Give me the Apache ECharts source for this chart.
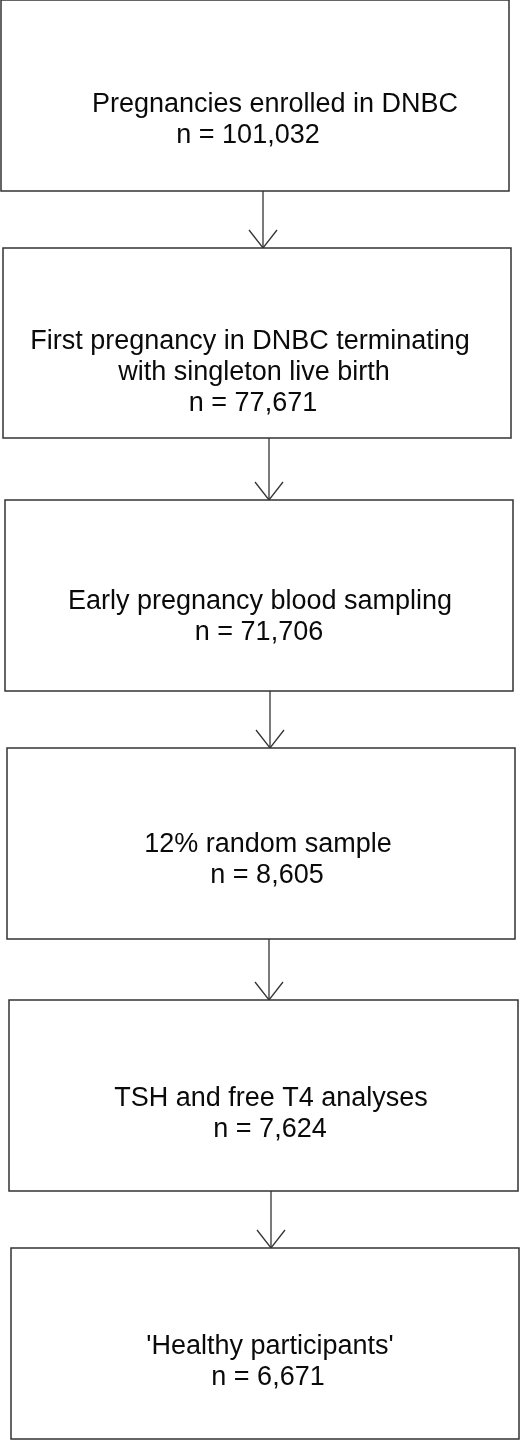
<!DOCTYPE html>
<html>
<head>
<meta charset="utf-8">
<script src="https://cdn.jsdelivr.net/npm/echarts@6/dist/echarts.min.js"></script>
<style>
html, body { margin: 0; padding: 0; background: #fff; }
#chart { width: 520px; height: 1440px; }
</style>
</head>
<body>
<div id="chart"></div>
<script>
// flow steps
var stepTitles = [
    ['Pregnancies enrolled in DNBC'],
    ['First pregnancy in DNBC terminating', 'with singleton live birth'],
    ['Early pregnancy blood sampling'],
    ['12% random sample'],
    ['TSH and free T4 analyses'],
    ["'Healthy participants'"]
];
var stepCounts = ['n = 101,032', 'n = 77,671', 'n = 71,706', 'n = 8,605', 'n = 7,624', 'n = 6,671'];

// box extents in chart units (x 0..520, y 0..1440 downwards)
var boxLeft = [1, 3, 5, 7, 9, 11];
var boxRight = [509, 511, 513, 515, 518, 519];
var boxTop = [0, 248, 500, 748, 1000, 1248];
var boxBottom = [191, 438, 691, 939, 1191, 1439];
// arrow positions between boxes
var arrowX = [263, 269, 270, 269, 271];
// text line centres and first baselines
var textX = [[275, 248], [250, 254, 253], [260, 259], [268, 267], [271, 270], [270, 268]];
var firstBaseline = [91, 328, 588, 831, 1085, 1333];

var chart = echarts.init(document.getElementById('chart'), null, {renderer: 'canvas'});

var lineColor = '#333';
var lineGap = 31;

function renderStep(params, api) {
    var i = params.dataIndex;
    var tl = api.coord([boxLeft[i], boxTop[i]]);
    var br = api.coord([boxRight[i], boxBottom[i]]);
    var children = [{
        type: 'rect',
        shape: {x: tl[0], y: tl[1], width: br[0] - tl[0], height: br[1] - tl[1]},
        style: {fill: '#fff', stroke: lineColor, lineWidth: 1.5}
    }];
    var lines = stepTitles[i].concat([stepCounts[i]]);
    for (var k = 0; k < lines.length; k++) {
        var p = api.coord([textX[i][k], firstBaseline[i] + k * lineGap]);
        children.push({
            type: 'text',
            style: {
                text: lines[k], x: p[0], y: p[1],
                align: 'center', verticalAlign: 'alphabetic',
                font: '27px "Liberation Sans", Arial, sans-serif',
                fill: '#0a0a0a'
            }
        });
    }
    if (i < arrowX.length) {
        var a = api.coord([arrowX[i], boxBottom[i]]);
        var b = api.coord([arrowX[i], boxTop[i + 1]]);
        children.push({
            type: 'line',
            shape: {x1: a[0], y1: a[1], x2: b[0], y2: b[1]},
            style: {stroke: lineColor, lineWidth: 1.3}
        });
        children.push({
            type: 'polyline',
            shape: {points: [[b[0] - 14, b[1] - 18], [b[0], b[1]], [b[0] + 14, b[1] - 18]]},
            style: {stroke: lineColor, fill: null, lineWidth: 1.3}
        });
    }
    return {type: 'group', children: children};
}

var option = {
    animation: false,
    grid: {left: 0, right: 0, top: 0, bottom: 0},
    xAxis: {type: 'value', min: 0, max: 520, show: false},
    yAxis: {type: 'value', min: 0, max: 1440, inverse: true, show: false},
    series: [{
        type: 'custom',
        clip: false,
        renderItem: renderStep,
        data: stepCounts.map(function (c, i) { return [boxLeft[i], boxTop[i]]; })
    }]
};
chart.setOption(option);
</script>
</body>
</html>
